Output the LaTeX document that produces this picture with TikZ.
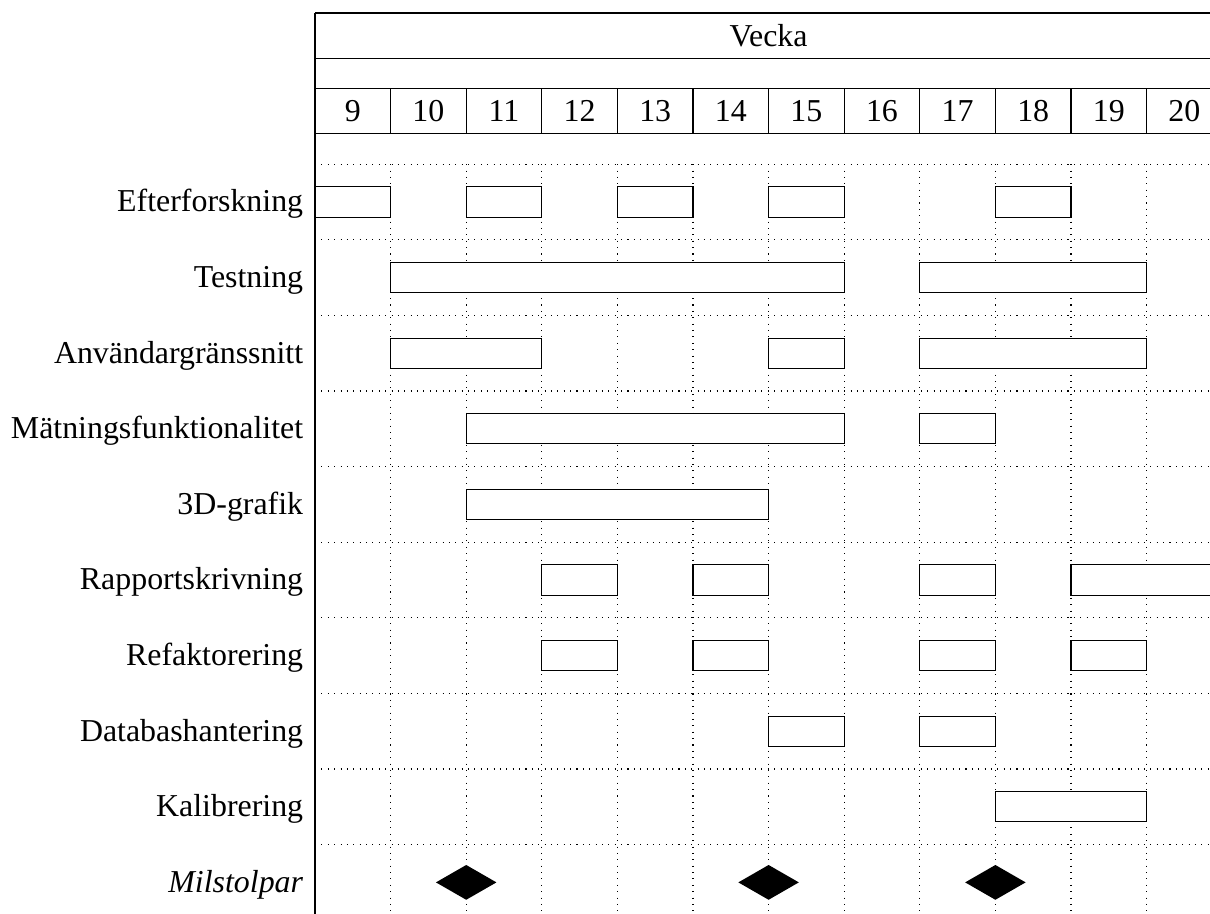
\documentclass[tikz,border=0pt]{standalone}
\usepackage{fontspec}
\setmainfont{Liberation Serif}
\usetikzlibrary{positioning}

\begin{document}
\begin{tikzpicture}[
    x=1cm, y=1cm,
    font=\fontsize{12}{14}\selectfont,
    frame/.style={draw=black, line width=0.4pt},
    gridline/.style={draw=black, dotted, line width=0.4pt},
    bar/.style={draw=black, fill=white, line width=0.4pt},
    milestone/.style={fill=black},
    rowlabel/.style={anchor=base east, inner sep=0pt},
    weeklabel/.style={anchor=base, inner sep=0pt}
]
\useasboundingbox (-4.167,0.172) rectangle (11.839,-11.918);
\clip (-4.167,0.172) rectangle (11.839,-11.918);

% Header rows
\draw[frame] (0,0) -- (12.5,0);
\draw[frame] (0,-0.6) -- (12.5,-0.6);
\draw[frame] (0,-1) -- (12.5,-1);
\draw[frame] (0,-1.6) -- (12.5,-1.6);
\node[weeklabel] (title) at (6,-0.44) {Vecka};
\foreach \w [count=\i from 0] in {9,...,20} {
    \node[weeklabel] (wk\w) at (\i+0.5,-1.43) {\w};
    \draw[frame] (\i+1,-1) -- (\i+1,-1.6);
}

% Grid
\foreach \r in {2,...,11}
    \draw[gridline] (0,-\r) -- (12.5,-\r);
\foreach \c in {1,...,12}
    \draw[gridline] (\c,-2) -- (\c,-12);
\draw[frame] (0,0) -- (0,-12);

% Row labels
\foreach \lbl [count=\i] in {Efterforskning, Testning, Användargränssnitt,
    Mätningsfunktionalitet, 3D-grafik, Rapportskrivning, Refaktorering,
    Databashantering, Kalibrering}
    \node[rowlabel] (row\i) at (-0.15,-1.63-\i) {\lbl};
\node[rowlabel] (row10) at (-0.15,-11.63) {\textit{Milstolpar}};

% Bars (row/start/end)
\foreach \r/\a/\b in {1/0/1, 1/2/3, 1/4/5, 1/6/7, 1/9/10,
    2/1/7, 2/8/11,
    3/1/3, 3/6/7, 3/8/11,
    4/2/7, 4/8/9,
    5/2/6,
    6/3/4, 6/5/6, 6/8/9, 6/10/12.5,
    7/3/4, 7/5/6, 7/8/9, 7/10/11,
    8/6/7, 8/8/9,
    9/9/11}
    \draw[bar] (\a,-1.3-\r) rectangle (\b,-1.7-\r);

% Milestones
\foreach \m in {2,6,9}
    \fill[milestone] (\m-0.4,-11.5) -- (\m,-11.27) -- (\m+0.4,-11.5) -- (\m,-11.73) -- cycle;

\end{tikzpicture}
\end{document}
